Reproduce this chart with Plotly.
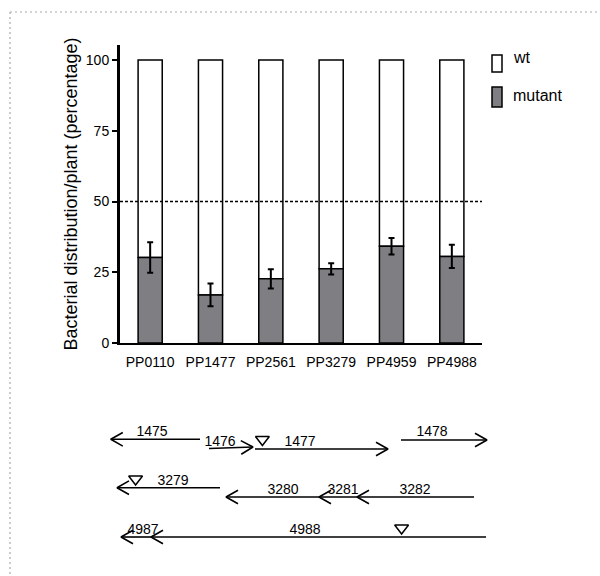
import math
import plotly.graph_objects as go

W, H = 600, 576

# ---- competition data -------------------------------------------------------
strains = ["PP0110", "PP1477", "PP2561", "PP3279", "PP4959", "PP4988"]
mutant_pct = [30.2, 17.0, 22.7, 26.2, 34.2, 30.6]
mutant_err = [5.4, 4.0, 3.4, 2.0, 2.9, 4.1]
wt_pct = [round(100 - m, 1) for m in mutant_pct]
y_ticks = [0, 25, 50, 75, 100]
neutral_level = 50

# ---- gene neighbourhood maps (schematic units along each locus) --------------
gene_names = ["1475", "1476", "1477", "1478", "3279",
              "3282", "3281", "3280", "4987", "4988"]
gene_tail_x = [25.0, 27.25, 38.75, 75.25, 30.0, 93.5, 64.25, 54.75, 13.0, 96.5]
gene_tip_x = [2.7, 38.25, 72.0, 96.75, 4.25, 64.25, 54.75, 31.5, 5.25, 12.75]
gene_tail_y = [19.3, 28.5, 29.0, 20.0, 67.7, 77.0, 77.0, 77.0, 117.0, 117.0]
gene_tip_y = [19.3, 27.0, 29.0, 20.0, 67.7, 77.0, 77.0, 77.0, 117.0, 117.0]

label_names = ["1475", "1476", "1477", "1478", "3279",
               "3280", "3281", "3282", "4987", "4988"]
label_x = [13.0, 30.0, 50.0, 83.0, 18.25, 45.75, 60.75, 78.75, 10.75, 51.25]
label_y = [12.0, 22.0, 22.0, 12.0, 61.0, 70.0, 70.0, 70.0, 110.0, 110.0]

# transposon insertion sites
insert_x = [40.6, 8.9, 75.4]
insert_y = [19.5, 59.0, 108.0]

FONT = "Liberation Sans, Arial, Helvetica, sans-serif"
BAR_GREY = "#7f7e83"

# gene-map axes geometry (pixels) and arrowhead size
MAP_X0, MAP_X1, MAP_Y0, MAP_Y1 = 100, 500, 420, 560
MAP_XRANGE, MAP_YRANGE = 100.0, 140.0
HEAD_LEN_PX, HEAD_HALF_PX = 12.0, 6.8


def px_x(p):
    return p / W


def px_y(p):
    return 1 - p / H


# data units per pixel on the gene-map axes
ux = MAP_XRANGE / (MAP_X1 - MAP_X0)
uy = MAP_YRANGE / (MAP_Y1 - MAP_Y0)

fig = go.Figure()

# white wt part sits on top of the mutant part
fig.add_trace(go.Bar(
    x=strains, y=wt_pct, base=mutant_pct, width=0.4,
    marker=dict(color="white", line=dict(color="black", width=1.5)),
    name="wt", showlegend=False, xaxis="x", yaxis="y",
))
fig.add_trace(go.Bar(
    x=strains, y=mutant_pct, width=0.4,
    marker=dict(color=BAR_GREY, line=dict(color="black", width=1.5)),
    error_y=dict(type="data", array=mutant_err, visible=True,
                 color="black", thickness=2, width=3),
    name="mutant", showlegend=False, xaxis="x", yaxis="y",
))

# gene arrows: shaft plus open chevron head
ax_pts, ay_pts = [], []
for tx, ty, hx, hy in zip(gene_tail_x, gene_tail_y, gene_tip_x, gene_tip_y):
    dxp, dyp = (hx - tx) / ux, (hy - ty) / uy
    n = math.hypot(dxp, dyp)
    dxp, dyp = dxp / n, dyp / n
    bx, by = -dxp * HEAD_LEN_PX, -dyp * HEAD_LEN_PX
    px_, py_ = -dyp * HEAD_HALF_PX, dxp * HEAD_HALF_PX
    ax_pts += [tx, hx, None,
               hx + (bx + px_) * ux, hx, hx + (bx - px_) * ux, None]
    ay_pts += [ty, hy, None,
               hy + (by + py_) * uy, hy, hy + (by - py_) * uy, None]

fig.add_trace(go.Scatter(
    x=ax_pts, y=ay_pts, mode="lines", xaxis="x2", yaxis="y2",
    line=dict(color="black", width=1.6), connectgaps=False,
    showlegend=False, hoverinfo="skip",
))

# insertion triangles
fig.add_trace(go.Scatter(
    x=insert_x, y=insert_y, mode="markers", xaxis="x2", yaxis="y2",
    marker=dict(symbol="triangle-down-open", size=12,
                color="black", line=dict(color="black", width=1.5)),
    showlegend=False, hoverinfo="skip",
))
# gene labels
fig.add_trace(go.Scatter(
    x=label_x, y=label_y, mode="text", text=label_names,
    textposition="middle center", xaxis="x2", yaxis="y2",
    textfont=dict(family=FONT, size=14, color="black"),
    showlegend=False, hoverinfo="skip",
))

annotations = []
# legend
legend_items = [("wt", "white", 55, 72, 58), ("mutant", BAR_GREY, 87, 107, 95)]
shapes = []
for name, col, y0, y1, ty in legend_items:
    shapes.append(dict(type="rect", xref="paper", yref="paper",
                       x0=px_x(492), x1=px_x(502), y0=px_y(y1), y1=px_y(y0),
                       fillcolor=col, line=dict(color="black", width=1.5)))
    annotations.append(dict(x=px_x(511), y=px_y(ty), xref="paper", yref="paper",
                            text=name, showarrow=False, xanchor="left",
                            yanchor="middle",
                            font=dict(family=FONT, size=16, color="black")))

# 50 % reference line
shapes.append(dict(type="line", xref="x domain", yref="y", x0=0, x1=1,
                   y0=neutral_level, y1=neutral_level,
                   line=dict(color="black", width=1.5, dash="3px,2px")))

# dotted frame (top and left edges)
frame = dict(color="#aaaaaa", width=1.2, dash="2px,3px")
shapes.append(dict(type="line", xref="paper", yref="paper",
                   x0=px_x(10), x1=1, y0=px_y(12), y1=px_y(12), line=frame))
shapes.append(dict(type="line", xref="paper", yref="paper",
                   x0=px_x(10), x1=px_x(10), y0=px_y(12), y1=0, line=frame))

fig.update_layout(
    width=W, height=H, autosize=False,
    margin=dict(l=0, r=0, t=0, b=0, autoexpand=False),
    showlegend=False,
    paper_bgcolor="white", plot_bgcolor="rgba(0,0,0,0)",
    barmode="overlay", bargap=0.6,
    font=dict(family=FONT, size=14, color="black"),
    xaxis=dict(
        domain=[px_x(120), px_x(482)], anchor="y", automargin=False,
        showline=True, linecolor="black", linewidth=2,
        ticks="", showgrid=False, zeroline=False, ticklabelstandoff=5,
        tickfont=dict(family=FONT, size=14, color="black"),
        range=[-0.5, 5.5],
    ),
    yaxis=dict(
        domain=[px_y(343), px_y(45)], anchor="x", automargin=False,
        range=[0, 105.3], tickvals=y_ticks,
        showline=True, linecolor="black", linewidth=3,
        ticks="outside", ticklen=5, tickwidth=1.5, tickcolor="black",
        showgrid=False, zeroline=False,
        tickfont=dict(family=FONT, size=14, color="black"),
        title=dict(text="Bacterial distribution/plant (percentage)",
                   font=dict(family=FONT, size=18, color="black"),
                   standoff=4),
    ),
    xaxis2=dict(domain=[px_x(MAP_X0), px_x(MAP_X1)], anchor="y2",
                range=[0, MAP_XRANGE], visible=False, fixedrange=True,
                automargin=False),
    yaxis2=dict(domain=[px_y(MAP_Y1), px_y(MAP_Y0)], anchor="x2",
                range=[MAP_YRANGE, 0], visible=False, fixedrange=True,
                automargin=False),
    shapes=shapes,
    annotations=annotations,
)

fig.write_html("out.html", config={"responsive": False, "displayModeBar": False})
